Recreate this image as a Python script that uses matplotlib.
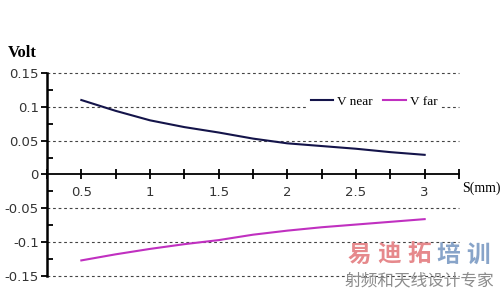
import matplotlib.pyplot as plt
from matplotlib.ticker import MultipleLocator

# distance in mm
s_mm = [0.5, 0.75, 1.0, 1.25, 1.5, 1.75, 2.0, 2.25, 2.5, 2.75, 3.0]
v_near = [0.110, 0.094, 0.080, 0.070, 0.062, 0.053, 0.046, 0.042, 0.038, 0.033, 0.029]
v_far = [-0.127, -0.118, -0.110, -0.103, -0.097, -0.089, -0.083, -0.078, -0.074, -0.070, -0.066]

x_ticks = [0.5, 1, 1.5, 2, 2.5, 3]
y_ticks = [-0.15, -0.1, -0.05, 0, 0.05, 0.1, 0.15]
y_labels = ["-0.15", "-0.1", "-0.05", "0", "0.05", "0.1", "0.15"]

fig = plt.figure(figsize=(5, 2.99), dpi=100)
ax = fig.add_axes([0.094, 0.077, 0.824, 0.679])

ax.plot(s_mm, v_near, color="#14144a", lw=1.5, label="V near")
ax.plot(s_mm, v_far, color="#c030c0", lw=1.5, label="V far")

ax.set_xlim(0.25, 3.25)
ax.set_ylim(-0.15, 0.15)

for y in y_ticks:
    if y != 0:
        ax.axhline(y, color="#444444", lw=0.8, ls=(0, (2.5, 2.5)), zorder=0, clip_on=False)

ax.spines["top"].set_visible(False)
ax.spines["right"].set_visible(False)
ax.spines["left"].set_linewidth(1.8)
ax.spines["bottom"].set_position(("data", 0))
ax.spines["bottom"].set_linewidth(1.3)

ax.xaxis.set_major_locator(MultipleLocator(0.25))
ax.set_xticklabels([])
ax.tick_params(axis="x", which="major", direction="inout", length=7, width=1.3)
for x in x_ticks:
    ax.text(x, -0.017, f"{x:g}", ha="center", va="top", fontsize=9.5,
            color="#333333", family="DejaVu Sans")

ax.set_yticks(y_ticks)
ax.set_yticklabels(y_labels, fontsize=9.5, color="#333333")
ax.yaxis.set_minor_locator(MultipleLocator(0.025))
ax.tick_params(axis="y", which="major", direction="out", length=4, width=1.3, pad=2)
ax.tick_params(axis="y", which="minor", direction="in", length=4, width=1.3)

fig.text(0.016, 0.822, "Volt", fontsize=12, fontweight="bold",
         family="Liberation Serif", va="center")
fig.text(0.924, 0.371, "S(mm)", fontsize=10, family="Liberation Serif", va="center")

leg = ax.legend(loc="center", bbox_to_anchor=(0.748, 0.66), bbox_transform=fig.transFigure,
                ncol=2, frameon=True, fancybox=False, framealpha=1,
                prop={"family": "Liberation Serif", "size": 9.5},
                handlelength=1.7, handletextpad=0.3, columnspacing=0.8,
                borderpad=0.2)
leg.get_frame().set_edgecolor("none")

# watermark
for i, (ch, col) in enumerate(zip("易迪拓培训", ["#e6898c"] * 3 + ["#88a4c9"] * 2)):
    fig.text((345 + 14.8 + 29.6 * i) / 500, 1 - 255 / 299, ch, fontsize=17,
             fontweight="bold", color=col, family="Noto Sans CJK SC",
             ha="center", va="center")
fig.text(345 / 500, 1 - 281 / 299, "射频和天线设计专家", fontsize=12, color="#8c8c8c",
         family="Noto Sans CJK SC", va="center")

fig.savefig("out.png", dpi=100)
